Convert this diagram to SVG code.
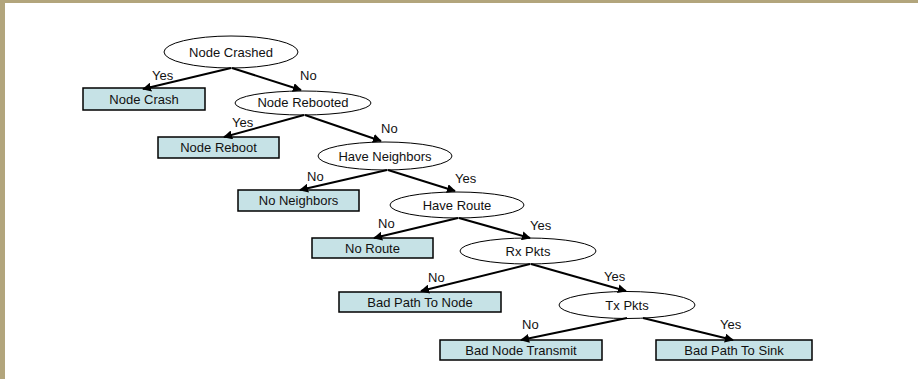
<svg xmlns="http://www.w3.org/2000/svg" width="918" height="379" viewBox="0 0 918 379">
  <style>
    .dec ellipse { fill: #ffffff; stroke: #000000; stroke-width: 1; }
    .leaf rect { fill: #c6e2e6; stroke: #000000; stroke-width: 1.5; }
    text { font-family: "Liberation Sans", Arial, sans-serif; font-size: 13px; fill: #111111; }
    .c { text-anchor: middle; }
    #edges line { stroke: #000000; stroke-width: 2; marker-end: url(#arr); }
  </style>
  <defs>
    <marker id="arr" viewBox="0 0 10 10" refX="9" refY="5" markerWidth="4.5" markerHeight="4.5" orient="auto" markerUnits="strokeWidth">
      <path d="M0,0 L10,5 L0,10 z" fill="#000000"/>
    </marker>
  </defs>

  <!-- page frame -->
  <rect x="0" y="0" width="918" height="379" fill="#ffffff"/>
  <rect x="0" y="0" width="918" height="3" fill="#b2a57c"/>
  <rect x="0" y="0" width="5" height="379" fill="#b2a57c"/>

  <!-- decision nodes -->
  <g id="node-crashed" class="dec">
    <ellipse cx="231" cy="52" rx="67" ry="16"/>
    <text class="c" x="231" y="57">Node Crashed</text>
  </g>
  <g id="node-rebooted" class="dec">
    <ellipse cx="303" cy="103" rx="68" ry="12"/>
    <text class="c" x="303" y="107">Node Rebooted</text>
  </g>
  <g id="have-neighbors" class="dec">
    <ellipse cx="385" cy="156" rx="67" ry="14"/>
    <text class="c" x="385" y="161">Have Neighbors</text>
  </g>
  <g id="have-route" class="dec">
    <ellipse cx="457" cy="205" rx="67" ry="13"/>
    <text class="c" x="457" y="210">Have Route</text>
  </g>
  <g id="rx-pkts" class="dec">
    <ellipse cx="528" cy="251" rx="68" ry="13"/>
    <text class="c" x="528" y="256">Rx Pkts</text>
  </g>
  <g id="tx-pkts" class="dec">
    <ellipse cx="627" cy="305" rx="68" ry="13.5"/>
    <text class="c" x="627" y="310">Tx Pkts</text>
  </g>

  <!-- outcome nodes -->
  <g id="node-crash" class="leaf">
    <rect x="83" y="88" width="122" height="22"/>
    <text class="c" x="144" y="104">Node Crash</text>
  </g>
  <g id="node-reboot" class="leaf">
    <rect x="158" y="137" width="121" height="21"/>
    <text class="c" x="218.5" y="152">Node Reboot</text>
  </g>
  <g id="no-neighbors" class="leaf">
    <rect x="238" y="190" width="121" height="21"/>
    <text class="c" x="298.5" y="205">No Neighbors</text>
  </g>
  <g id="no-route" class="leaf">
    <rect x="312" y="238" width="121" height="20"/>
    <text class="c" x="372.5" y="253">No Route</text>
  </g>
  <g id="bad-path-to-node" class="leaf">
    <rect x="339" y="292" width="162" height="20"/>
    <text class="c" x="420" y="307">Bad Path To Node</text>
  </g>
  <g id="bad-node-transmit" class="leaf">
    <rect x="440" y="340" width="162" height="20"/>
    <text class="c" x="521" y="355">Bad Node Transmit</text>
  </g>
  <g id="bad-path-to-sink" class="leaf">
    <rect x="656" y="340" width="156" height="20"/>
    <text class="c" x="734" y="355">Bad Path To Sink</text>
  </g>

  <!-- connectors -->
  <g id="edges">
    <line x1="231" y1="68" x2="143" y2="89"/>
    <line x1="232" y1="68" x2="301" y2="90"/>
    <line x1="304" y1="115" x2="224" y2="137"/>
    <line x1="305" y1="115" x2="381" y2="141"/>
    <line x1="387" y1="170" x2="300" y2="190"/>
    <line x1="388" y1="170" x2="455" y2="191"/>
    <line x1="458" y1="218" x2="374" y2="238"/>
    <line x1="459" y1="218" x2="530" y2="238"/>
    <line x1="530" y1="264" x2="421" y2="291"/>
    <line x1="531" y1="264" x2="626" y2="291"/>
    <line x1="627" y1="318" x2="521" y2="340"/>
    <line x1="643" y1="318" x2="733" y2="340"/>
  </g>

  <!-- branch labels -->
  <g id="labels">
    <text x="152" y="80">Yes</text>
    <text x="300" y="80">No</text>
    <text x="232" y="127">Yes</text>
    <text x="381" y="133">No</text>
    <text x="307" y="181">No</text>
    <text x="455" y="183">Yes</text>
    <text x="378" y="228">No</text>
    <text x="530" y="230">Yes</text>
    <text x="428" y="282">No</text>
    <text x="604" y="281">Yes</text>
    <text x="522" y="329">No</text>
    <text x="720" y="329">Yes</text>
  </g>
</svg>
